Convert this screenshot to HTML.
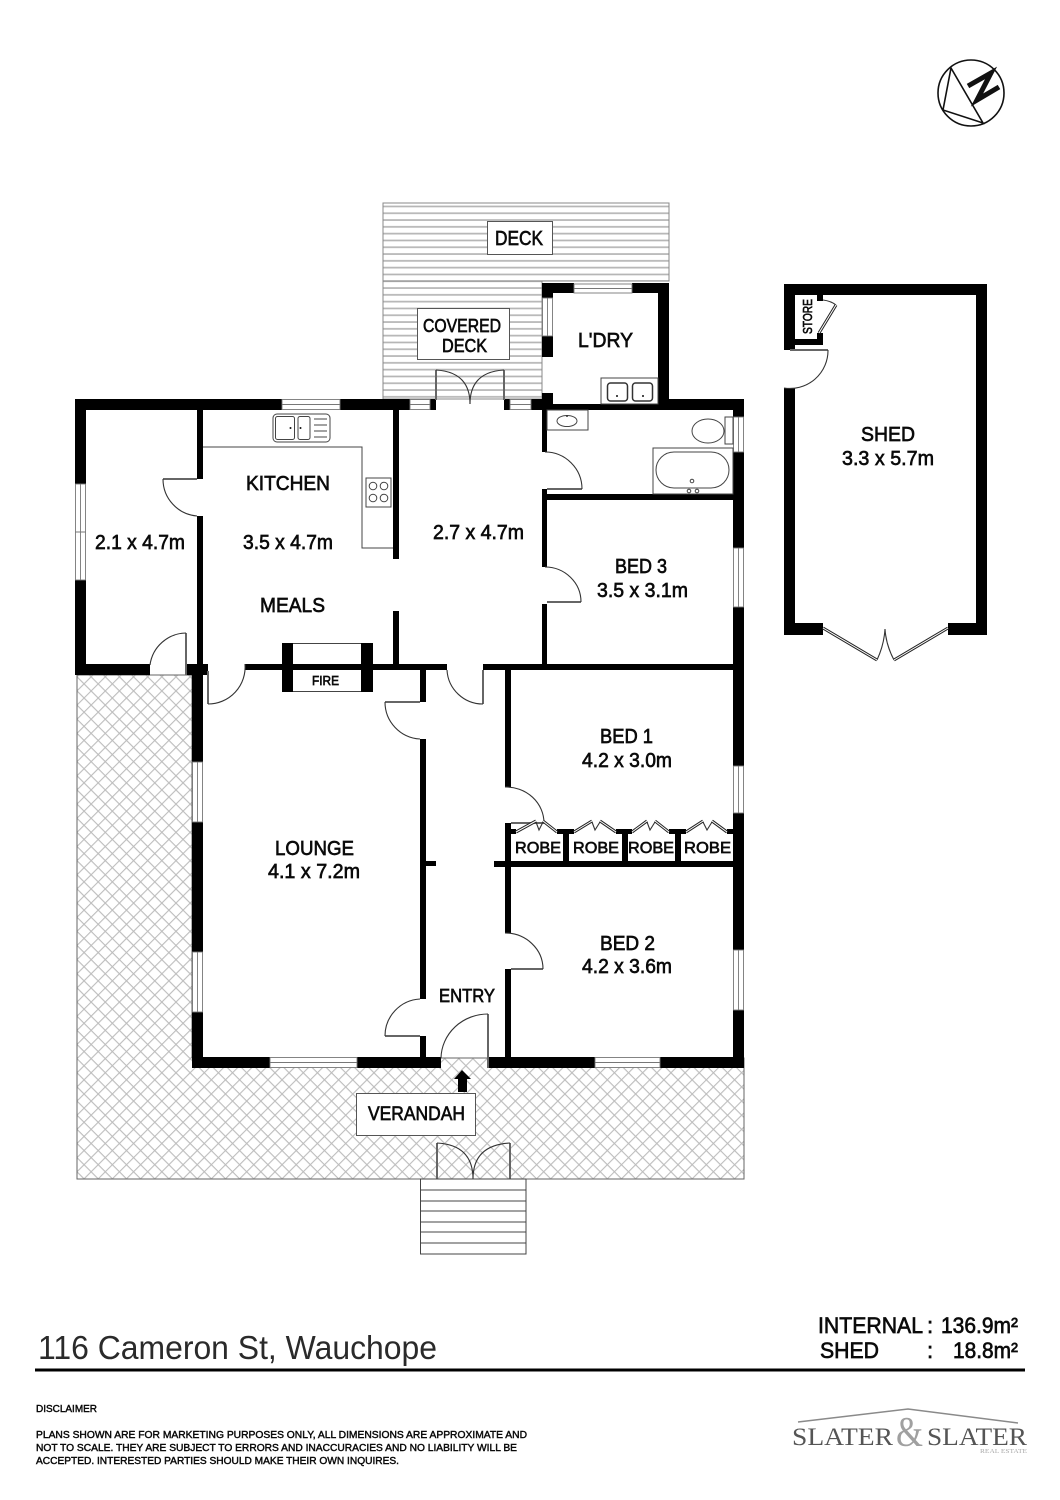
<!DOCTYPE html>
<html><head><meta charset="utf-8"><style>
html,body{margin:0;padding:0;background:#fff}
svg{display:block}
text{font-family:"Liberation Sans",Arial,sans-serif;fill:#0a0a0a;stroke:#0a0a0a;stroke-width:.65}
.w{fill:#fff;stroke:#777;stroke-width:.9}
.l{fill:none;stroke:#444;stroke-width:1}
.d{fill:none;stroke:#333;stroke-width:1.1}
.g{fill:none;stroke:#666;stroke-width:2}
.b{fill:#fff;stroke:#555;stroke-width:1}
.dbl{fill:none;stroke:#222;stroke-width:3}
.dbi{fill:none;stroke:#fff;stroke-width:1}
</style></head><body>
<svg xmlns="http://www.w3.org/2000/svg" width="1060" height="1500" viewBox="0 0 1060 1500">
<defs>
<pattern id="deck" width="10" height="6.8" patternUnits="userSpaceOnUse" patternTransform="translate(0,204)"><rect width="10" height="6.8" fill="#fff"/><rect y="1.6" width="10" height="1.7" fill="#b5b5b5"/></pattern>
<pattern id="hatch" width="10" height="10" patternUnits="userSpaceOnUse" patternTransform="translate(77,676) rotate(45)"><rect width="10" height="10" fill="#fff"/><path d="M0 .5H10M.5 0V10" stroke="#bdbdbd" stroke-width="1.2" fill="none"/></pattern>
</defs>
<rect width="1060" height="1500" fill="#fff"/>

<!-- north -->
<circle cx="971" cy="93" r="33" fill="none" stroke="#111" stroke-width="1.6"/>
<path d="M951 68 L943 110 L983 123 Z" fill="none" stroke="#111" stroke-width="1.6"/>
<path d="M968 86 L991 73 L977 100 L999 87" fill="none" stroke="#111" stroke-width="5"/>

<!-- verandah -->
<path d="M77 675H192V1058H744V1179H77Z" fill="url(#hatch)" stroke="#666" stroke-width="1"/>
<!-- deck -->
<rect x="383" y="203" width="286" height="78" fill="url(#deck)" stroke="#888" stroke-width="1"/>
<rect x="383" y="281" width="159" height="118" fill="url(#deck)" stroke="#888" stroke-width="1"/>

<!-- walls: main -->
<g fill="#000">
<rect x="75" y="399" width="207" height="11"/>
<rect x="340" y="399" width="70" height="11"/>
<rect x="430" y="399" width="6" height="11"/>
<rect x="504" y="399" width="6" height="11"/>
<rect x="531" y="399" width="22" height="11"/>
<rect x="553" y="404" width="105" height="6"/>
<rect x="658" y="399" width="86" height="11"/>
<!-- laundry -->
<rect x="542" y="283" width="32" height="10"/>
<rect x="632" y="283" width="37" height="10"/>
<rect x="658" y="283" width="11" height="120"/>
<rect x="542" y="283" width="11" height="15"/>
<rect x="542" y="336" width="11" height="21"/>
<rect x="542" y="393" width="11" height="8"/>
<!-- outer left -->
<rect x="75" y="399" width="11" height="85"/>
<rect x="75" y="580" width="11" height="95"/>
<rect x="75" y="664" width="75" height="11"/>
<!-- partition bedroom2.1/kitchen -->
<rect x="197" y="410" width="6" height="69"/>
<rect x="197" y="516" width="6" height="150"/>
<rect x="186" y="664" width="22" height="11"/>
<!-- lounge left -->
<rect x="192" y="664" width="11" height="98"/>
<rect x="192" y="822" width="11" height="130"/>
<rect x="192" y="1012" width="11" height="56"/>
<!-- kitchen right -->
<rect x="393" y="410" width="6" height="149"/>
<rect x="393" y="611" width="6" height="55"/>
<!-- mid horizontal -->
<rect x="245" y="664" width="202" height="6"/>
<rect x="483" y="664" width="250" height="6"/>
<!-- fireplace -->
<rect x="282" y="643" width="11" height="49"/>
<rect x="361" y="643" width="12" height="49"/>
<!-- lounge right -->
<rect x="420" y="670" width="6" height="32"/>
<rect x="420" y="739" width="6" height="260"/>
<rect x="420" y="1036" width="6" height="24"/>
<rect x="425" y="861" width="11" height="5"/>
<!-- bed partition -->
<rect x="505" y="670" width="6" height="117"/>
<rect x="505" y="823" width="6" height="110"/>
<rect x="505" y="969" width="6" height="90"/>
<!-- bottom -->
<rect x="192" y="1057" width="78" height="11"/>
<rect x="357" y="1057" width="84" height="11"/>
<rect x="488" y="1057" width="107" height="11"/>
<rect x="660" y="1057" width="84" height="11"/>
<!-- right outer -->
<rect x="733" y="399" width="11" height="18"/>
<rect x="733" y="452" width="11" height="96"/>
<rect x="733" y="607" width="11" height="159"/>
<rect x="733" y="813" width="11" height="137"/>
<rect x="733" y="1010" width="11" height="58"/>
<!-- bath / bed3 -->
<rect x="542" y="410" width="5" height="42"/>
<rect x="542" y="489" width="5" height="78"/>
<rect x="542" y="604" width="5" height="62"/>
<rect x="542" y="494" width="191" height="6"/>
<!-- robes -->
<rect x="494" y="861" width="239" height="6"/>
<rect x="563" y="829" width="6" height="33"/>
<rect x="622" y="829" width="6" height="33"/>
<rect x="675" y="829" width="6" height="33"/>
<rect x="511" y="829" width="5" height="5"/>
<rect x="557" y="829" width="17" height="5"/>
<rect x="616" y="829" width="16" height="5"/>
<rect x="669" y="829" width="17" height="5"/>
<rect x="727" y="829" width="6" height="5"/>
<!-- shed -->
<rect x="784" y="284" width="203" height="11"/>
<rect x="784" y="284" width="11" height="66"/>
<rect x="976" y="284" width="11" height="351"/>
<rect x="784" y="388" width="11" height="247"/>
<rect x="784" y="623" width="39" height="12"/>
<rect x="948" y="623" width="39" height="12"/>
<rect x="795" y="339" width="28" height="6"/>
<rect x="817" y="333" width="6" height="8"/>
<rect x="817" y="295" width="6" height="6"/>
</g>

<!-- windows -->
<g class="w">
<rect x="282" y="399.5" width="58" height="10"/><path d="M282 404.5H340"/>
<rect x="410" y="399.5" width="20" height="10"/><path d="M410 404.5H430"/>
<rect x="510" y="399.5" width="21" height="10"/><path d="M510 404.5H531"/>
<rect x="574" y="284" width="58" height="9"/><path d="M574 288.5H632"/>
<rect x="542.5" y="298" width="10" height="38"/><path d="M547.5 298V336"/>
<rect x="75.5" y="484" width="10" height="96"/><path d="M80.5 484V580M75 532H86"/>
<rect x="192.5" y="762" width="10" height="60"/><path d="M197.5 762V822"/>
<rect x="192.5" y="952" width="10" height="60"/><path d="M197.5 952V1012"/>
<rect x="270" y="1057.5" width="87" height="10"/><path d="M270 1062.5H357"/>
<rect x="595" y="1057.5" width="65" height="10"/><path d="M595 1062.5H660"/>
<rect x="733.5" y="417" width="10" height="35"/><path d="M738.5 417V452"/>
<rect x="733.5" y="548" width="10" height="59"/><path d="M738.5 548V607"/>
<rect x="733.5" y="766" width="10" height="47"/><path d="M738.5 766V813"/>
<rect x="733.5" y="950" width="10" height="60"/><path d="M738.5 950V1010"/>
</g>

<!-- fire lines -->
<path class="l" d="M293 643.5H361M293 691.5H361"/>

<!-- doors -->
<g class="g">
<path d="M186 633V675"/>
<path d="M197 479H163"/>
<path d="M208 671V704"/>
<path d="M483 670V704"/>
<path d="M420 702H385"/>
<path d="M420 1036H385"/>
<path d="M488 1014V1068"/>
<path d="M511 823H544"/>
<path d="M511 969H543"/>
<path d="M547 602H581"/>
<path d="M547 489H582"/>
<path d="M436 370V400"/>
<path d="M504 370V400"/>
<path d="M437 1143V1179"/>
<path d="M510 1143V1179"/>
<path d="M790 350H828"/>
</g>
<g class="d">
<path d="M186 633A37 37 0 0 0 150 665"/>
<path d="M163 479A37 37 0 0 0 197 516"/>
<path d="M208 704A37 37 0 0 0 245 664"/>
<path d="M447 670A36 36 0 0 0 483 704"/>
<path d="M385 702A37 37 0 0 0 420 739"/>
<path d="M385 1036A37 37 0 0 1 420 999"/>
<path d="M441 1058A47 45 0 0 1 488 1014"/>
<path d="M505 787A38 36 0 0 1 544 823"/>
<path d="M505 933A38 36 0 0 1 543 969"/>
<path d="M545 567A36 35 0 0 1 581 602"/>
<path d="M545 452A37 37 0 0 1 582 489"/>
<path d="M436 370Q470 372 470 404"/>
<path d="M504 370Q470 372 470 404"/>
<path d="M437 1143Q473 1145 473 1179"/>
<path d="M510 1143Q473 1145 473 1179"/>
<path d="M828 350A38 38 0 0 1 784 388"/>
<path d="M823 300Q831 301 836 305"/>
<path d="M877 660Q884 645 885 629Q886 645 894 660"/>
<path d="M536 822L539 830L543 822"/>
<path d="M592 822L595 830L600 822"/>
<path d="M647 822L650 830L655 822"/>
<path d="M703 822L707 830L712 822"/>
</g>
<!-- bifold double lines -->
<path class="dbl" d="M516 832L536 821M543 821L557 832M574 832L592 821M600 821L616 832M632 832L647 821M655 821L669 832M686 832L703 821M712 821L727 832M823 628L877 660M948 628L894 660M819 333L836 305"/>
<path class="dbi" d="M516 832L536 821M543 821L557 832M574 832L592 821M600 821L616 832M632 832L647 821M655 821L669 832M686 832L703 821M712 821L727 832M823 628L877 660M948 628L894 660M819 333L836 305"/>

<!-- kitchen -->
<path class="l" d="M203 447H362V548H393"/>
<rect class="l" x="273" y="414" width="57" height="28" rx="4"/>
<rect class="l" x="275.500" y="416.500" width="19" height="23" rx="2"/>
<rect class="l" x="298" y="416.500" width="12" height="23" rx="2"/>
<path class="l" d="M314 419H327M314 425H327M314 431H327M314 437H327"/>
<circle cx="290.500" cy="428" r="1" fill="#111"/><circle cx="300.500" cy="428" r="1" fill="#111"/>
<rect class="l" x="366" y="478" width="25" height="29"/>
<g class="l"><circle cx="373" cy="486" r="3.800"/><circle cx="384" cy="486" r="3.800"/><circle cx="373" cy="498" r="3.800"/><circle cx="384" cy="498" r="3.800"/></g>

<!-- laundry tubs -->
<rect class="l" x="601" y="378" width="57" height="26"/>
<rect x="607.500" y="383" width="20" height="18" rx="3" fill="none" stroke="#333" stroke-width="1.500"/>
<rect x="632.500" y="383" width="20" height="18" rx="3" fill="none" stroke="#333" stroke-width="1.500"/>
<circle cx="617" cy="396" r="1" fill="#111"/><circle cx="643" cy="396" r="1" fill="#111"/>

<!-- bath -->
<rect class="l" x="547" y="410" width="41" height="20"/>
<ellipse class="l" cx="567" cy="421" rx="10" ry="5.500"/>
<circle cx="567" cy="416" r="1" fill="#333"/>
<ellipse class="l" cx="708" cy="431" rx="16" ry="12"/>
<rect class="l" x="725" y="417" width="8" height="27"/>
<rect class="l" x="653" y="448" width="80" height="46"/>
<rect class="l" x="656" y="452" width="73" height="36" rx="18"/>
<g class="l"><circle cx="692" cy="481" r="1.800"/><circle cx="689" cy="491" r="1.800"/><circle cx="697" cy="491" r="1.800"/></g>

<!-- stairs -->
<path class="l" d="M420.500 1179V1254H526V1179M420 1179H526M420 1190H526M420 1201H526M420 1211H526M420 1222H526M420 1232H526M420 1243H526"/>
<!-- arrow -->
<path d="M462 1070L471 1079H467V1092H458V1079H454Z" fill="#000"/>

<!-- label boxes -->
<rect class="b" x="487.500" y="221.500" width="65" height="33"/>
<rect class="b" x="417.500" y="308.500" width="92" height="51"/>
<rect class="b" x="356.500" y="1093.500" width="119" height="42"/>

<!-- labels -->
<g font-size="20">
<text x="495" y="245" textLength="48" lengthAdjust="spacingAndGlyphs">DECK</text>
<text x="423" y="332" font-size="18" textLength="78" lengthAdjust="spacingAndGlyphs">COVERED</text>
<text x="442" y="352" font-size="18" textLength="45" lengthAdjust="spacingAndGlyphs">DECK</text>
<text x="578" y="347" textLength="55" lengthAdjust="spacingAndGlyphs">L'DRY</text>
<text x="246" y="490" textLength="84" lengthAdjust="spacingAndGlyphs">KITCHEN</text>
<text x="243" y="549" textLength="90" lengthAdjust="spacingAndGlyphs">3.5 x 4.7m</text>
<text x="95" y="549" textLength="90" lengthAdjust="spacingAndGlyphs">2.1 x 4.7m</text>
<text x="260" y="612" textLength="65" lengthAdjust="spacingAndGlyphs">MEALS</text>
<text x="433" y="539" textLength="91" lengthAdjust="spacingAndGlyphs">2.7 x 4.7m</text>
<text x="615" y="573" textLength="52" lengthAdjust="spacingAndGlyphs">BED 3</text>
<text x="597" y="597" textLength="91" lengthAdjust="spacingAndGlyphs">3.5 x 3.1m</text>
<text x="600" y="743" textLength="53" lengthAdjust="spacingAndGlyphs">BED 1</text>
<text x="582" y="767" textLength="90" lengthAdjust="spacingAndGlyphs">4.2 x 3.0m</text>
<text x="600" y="950" textLength="55" lengthAdjust="spacingAndGlyphs">BED 2</text>
<text x="582" y="973" textLength="90" lengthAdjust="spacingAndGlyphs">4.2 x 3.6m</text>
<text x="275" y="855" textLength="79" lengthAdjust="spacingAndGlyphs">LOUNGE</text>
<text x="268" y="878" textLength="92" lengthAdjust="spacingAndGlyphs">4.1 x 7.2m</text>
<text x="861" y="441" textLength="54" lengthAdjust="spacingAndGlyphs">SHED</text>
<text x="842" y="465" textLength="92" lengthAdjust="spacingAndGlyphs">3.3 x 5.7m</text>
<text x="439" y="1002" font-size="18" textLength="56" lengthAdjust="spacingAndGlyphs">ENTRY</text>
<text x="368" y="1120" font-size="19" textLength="97" lengthAdjust="spacingAndGlyphs">VERANDAH</text>
<text x="312" y="685" font-size="13" textLength="27" lengthAdjust="spacingAndGlyphs">FIRE</text>
<text x="515" y="853" font-size="16" textLength="46" lengthAdjust="spacingAndGlyphs">ROBE</text>
<text x="573" y="853" font-size="16" textLength="46" lengthAdjust="spacingAndGlyphs">ROBE</text>
<text x="628" y="853" font-size="16" textLength="46" lengthAdjust="spacingAndGlyphs">ROBE</text>
<text x="684" y="853" font-size="16" textLength="47" lengthAdjust="spacingAndGlyphs">ROBE</text>
<text x="812" y="334" font-size="13" transform="rotate(-90 812 334)" textLength="35" lengthAdjust="spacingAndGlyphs">STORE</text>
</g>

<!-- footer -->
<text x="38" y="1359" font-size="33" style="fill:#2a2a2a;stroke:none" textLength="399" lengthAdjust="spacingAndGlyphs">116 Cameron St, Wauchope</text>
<rect x="35" y="1368.500" width="990" height="3" fill="#000"/>
<g font-size="22">
<text x="818" y="1333" textLength="105" lengthAdjust="spacingAndGlyphs">INTERNAL</text>
<text x="927" y="1333">:</text>
<text x="941" y="1333" textLength="77" lengthAdjust="spacingAndGlyphs">136.9m²</text>
<text x="820" y="1358" textLength="59" lengthAdjust="spacingAndGlyphs">SHED</text>
<text x="927" y="1358">:</text>
<text x="953" y="1358" textLength="65" lengthAdjust="spacingAndGlyphs">18.8m²</text>
</g>
<g font-size="10.500" style="stroke-width:.45">
<text x="36" y="1412" textLength="61" lengthAdjust="spacingAndGlyphs" style="stroke-width:.45">DISCLAIMER</text>
<text x="36" y="1438" textLength="491" lengthAdjust="spacingAndGlyphs" style="stroke-width:.45">PLANS SHOWN ARE FOR MARKETING PURPOSES ONLY, ALL DIMENSIONS ARE APPROXIMATE AND</text>
<text x="36" y="1451" textLength="481" lengthAdjust="spacingAndGlyphs" style="stroke-width:.45">NOT TO SCALE. THEY ARE SUBJECT TO ERRORS AND INACCURACIES AND NO LIABILITY WILL BE</text>
<text x="36" y="1464" textLength="363" lengthAdjust="spacingAndGlyphs" style="stroke-width:.45">ACCEPTED. INTERESTED PARTIES SHOULD MAKE THEIR OWN INQUIRES.</text>
</g>
<!-- logo -->
<path d="M798 1422L908 1409L1018 1423" fill="none" stroke="#8a8a8a" stroke-width="1.500"/>
<g>
<text x="792" y="1445" font-size="25" textLength="101" lengthAdjust="spacingAndGlyphs" style="font-family:'Liberation Serif',serif;fill:#555;stroke:none">SLATER</text>
<text x="896" y="1446" font-size="42" textLength="27" lengthAdjust="spacingAndGlyphs" style="font-family:'Liberation Serif',serif;fill:#a0a0a0;stroke:none">&amp;</text>
<text x="927" y="1445" font-size="25" textLength="100" lengthAdjust="spacingAndGlyphs" style="font-family:'Liberation Serif',serif;fill:#555;stroke:none">SLATER</text>
<text x="980" y="1453" font-size="6" textLength="47" lengthAdjust="spacingAndGlyphs" style="font-family:'Liberation Serif',serif;fill:#aaa;stroke:none">REAL ESTATE</text>
</g>
</svg>
</body></html>
